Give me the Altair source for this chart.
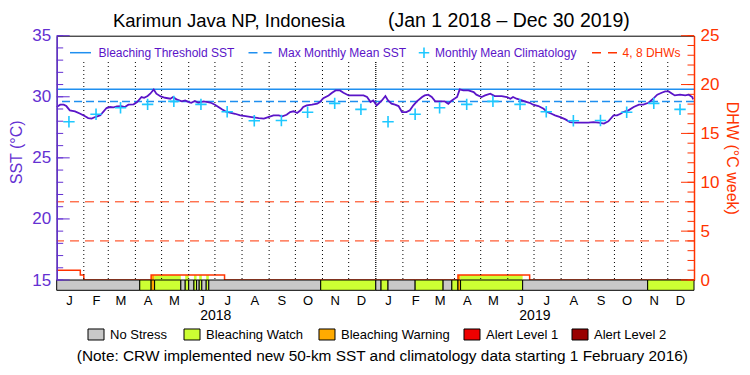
import altair as alt
import pandas as pd

FONT = "Liberation Sans"
W, H = 637.3, 244.3
BAR_Y0, BAR_Y1 = H, H + 10.3

PURPLE = "#5a14c8"
AXPURPLE = "#6430d2"
BLUE = "#1f8ff0"
CYAN = "#1ec8ff"
RED = "#ff3300"

# ---------------- data ----------------
START = pd.Timestamp("2018-01-01")

sst_day = [0, 4, 8, 11, 15, 21, 27, 32, 36, 40, 44, 50, 53, 57, 61, 65, 69, 74, 78, 82,
           88, 92, 97, 100, 104, 107, 111, 114, 119, 124, 130, 133, 137, 143, 147, 151, 154, 158, 162, 168,
           173, 177, 181, 185, 189, 193, 198, 204, 210, 216, 223, 231, 237, 242, 248, 254, 258, 263, 267, 271,
           275, 279, 282, 286, 292, 298, 301, 305, 311, 315, 319, 324, 328, 334, 341, 351, 355, 359, 362, 366,
           368, 372, 376, 379, 383, 387, 391, 395, 400, 404, 408, 412, 418, 421, 425, 429, 433, 439, 444, 448,
           452, 458, 461, 465, 471, 477, 480, 486, 490, 496, 501, 509, 515, 519, 522, 526, 532, 538, 541, 545,
           551, 557, 561, 566, 570, 576, 582, 587, 593, 601, 608, 614, 620, 626, 631, 637, 641, 645, 648, 654,
           660, 666, 671, 677, 683, 687, 692, 696, 700, 704, 707, 713, 719, 723, 727, 728]
sst_val = [29.16, 29.35, 29.35, 29.24, 28.89, 28.81, 28.61, 28.42, 28.26, 28.21, 28.34, 28.48, 28.75, 29.08, 29.16, 29.13, 29.21, 29.24, 29.16, 29.35,
           29.38, 29.57, 29.98, 29.92, 30.06, 30.25, 30.60, 30.25, 30.03, 29.92, 29.84, 29.98, 29.79, 29.62, 29.70, 29.57, 29.51, 29.65, 29.51, 29.62,
           29.57, 29.49, 29.35, 29.16, 28.97, 28.81, 28.70, 28.61, 28.48, 28.42, 28.34, 28.26, 28.21, 28.34, 28.48, 28.48, 28.40, 28.53, 28.75, 28.81,
           28.67, 28.89, 29.16, 29.30, 29.35, 29.43, 29.57, 29.89, 30.11, 30.33, 30.52, 30.52, 30.33, 30.11, 30.11, 30.11, 29.98, 29.57, 29.70, 29.30,
           29.43, 29.70, 30.06, 29.70, 29.43, 29.35, 29.24, 28.75, 28.75, 28.89, 29.30, 29.62, 29.98, 30.11, 30.17, 29.98, 29.62, 29.62, 29.62, 29.43,
           29.70, 29.98, 30.60, 30.52, 30.52, 30.38, 30.17, 29.98, 30.11, 30.25, 30.06, 30.06, 29.98, 29.84, 29.98, 29.84, 29.70, 29.57, 29.51, 29.35,
           29.24, 29.02, 28.75, 28.61, 28.48, 28.34, 28.15, 27.93, 27.88, 27.88, 27.88, 27.93, 27.88, 27.80, 27.99, 28.48, 28.48, 28.61, 28.75, 28.89,
           29.16, 29.35, 29.35, 29.51, 29.89, 30.17, 30.33, 30.44, 30.44, 30.25, 30.11, 30.17, 30.11, 30.17, 29.98, 29.79]

MMM = 29.62
THRESH = MMM + 1.0

clim_month_vals = [27.96, 28.57, 29.10, 29.38, 29.62, 29.38, 28.78, 28.04, 28.06, 28.73, 29.46, 28.97]

dhw_dates = ["2018-01-01", "2018-01-28", "2018-02-01", "2018-04-19", "2018-07-12",
             "2019-04-05", "2019-06-26", "2019-12-31"]
dhw_vals = [1.0, 0.5, 0.0, 0.5, 0.0, 0.5, 0.0, 0.0]
dhw_levels = [4, 8]

stress_starts = ["2018-01-01", "2018-04-06", "2018-04-19", "2018-04-23", "2018-05-23", "2018-05-28",
                 "2018-06-01", "2018-06-07", "2018-06-10", "2018-06-13", "2018-06-16", "2018-06-21",
                 "2018-06-24", "2018-10-30", "2019-01-01", "2019-01-07", "2019-01-15", "2019-02-15",
                 "2019-03-19", "2019-03-29", "2019-04-05", "2019-04-08", "2019-06-18", "2019-11-08"]
stress_levels = ["No Stress", "Bleaching Watch", "Bleaching Warning", "Bleaching Watch", "No Stress",
                 "Bleaching Watch", "No Stress", "Bleaching Watch", "No Stress", "Bleaching Watch",
                 "No Stress", "Bleaching Watch", "No Stress", "Bleaching Watch", "No Stress",
                 "Bleaching Watch", "No Stress", "Bleaching Watch", "No Stress", "Bleaching Watch",
                 "Bleaching Warning", "Bleaching Watch", "No Stress", "Bleaching Watch"]
END_DATE = "2019-12-31"

level_names = ["No Stress", "Bleaching Watch", "Bleaching Warning", "Alert Level 1", "Alert Level 2"]
level_colors = ["#c8c8c8", "#ccff33", "#ffaa00", "#ee0000", "#990000"]

years = [2018, 2019]
TITLE_SITE = "Karimun Java NP, Indonesia"
TITLE_RANGE = "(Jan 1 2018 \u2013 Dec 30 2019)"
NOTE = "(Note: CRW implemented new 50-km SST and climatology data starting 1 February 2016)"

# ---------------- tables ----------------
sst_df = pd.DataFrame({"date": START + pd.to_timedelta(sst_day, unit="D"), "sst": sst_val})
clim_df = pd.DataFrame({
    "date": [pd.Timestamp(year=y, month=m + 1, day=15) for y in years for m in range(12)],
    "clim": clim_month_vals * len(years),
})
month_starts = pd.DataFrame({"date": [pd.Timestamp(year=y, month=m, day=1)
                                      for y in years for m in range(1, 13)][1:]})
year_bound = pd.DataFrame({"date": [pd.Timestamp(year=y, month=1, day=1) for y in years[1:]]})
year_lab = pd.DataFrame({"date": [pd.Timestamp(year=y, month=7, day=2) for y in years],
                         "txt": [str(y) for y in years]})

stress_df = pd.DataFrame({"start": pd.to_datetime(stress_starts),
                          "end": pd.to_datetime(stress_starts[1:] + [END_DATE]),
                          "level": stress_levels})
dhw_df = pd.DataFrame({"date": pd.to_datetime(dhw_dates), "dhw": dhw_vals})

# coloured fill under the DHW line where stress is above "No Stress"
fills = []
for i in range(len(dhw_df) - 1):
    v = dhw_df.dhw[i]
    if v <= 0:
        continue
    a, b = dhw_df.date[i], dhw_df.date[i + 1]
    for _, s in stress_df.iterrows():
        if s.level == "No Stress":
            continue
        lo, hi = max(a, s.start), min(b, s.end)
        if lo < hi:
            fills.append({"start": lo, "end": hi, "level": s.level, "dhw": v, "zero": 0.0})
fill_df = pd.DataFrame(fills)

# ---------------- scales & axes ----------------
xscale = alt.Scale(domain=[alt.DateTime(year=2018, month=1, date=1),
                           alt.DateTime(year=2019, month=12, date=31)])
xaxis = alt.Axis(values=[alt.DateTime(year=y, month=m, date=15) for y in years for m in range(1, 13)],
                 format="%b", labelExpr="slice(datum.label, 0, 1)", domain=False, ticks=False,
                 grid=False, labelPadding=14, labelFontSize=13, labelFont=FONT, labelColor="black",
                 labelAngle=0, labelFlush=False, labelOverlap=False, title=None)

def X(f):
    return alt.X(f"{f}:T", scale=xscale, axis=xaxis)

sst_scale = alt.Scale(domain=[15, 35], nice=False, zero=False)
sst_axis = alt.Axis(orient="left", values=[15, 20, 25, 30, 35], ticks=False, grid=False,
                    domainColor=AXPURPLE, domainWidth=1.5, labelColor=AXPURPLE, labelFont=FONT,
                    labelFontSize=17, labelPadding=6, title="SST (°C)", titleColor=AXPURPLE,
                    titleFont=FONT, titleFontSize=16, titleFontWeight="normal", titleX=-40,
                    titleY=H / 2 - 6, titleBaseline="middle", titleAlign="center", zindex=1)

def Ysst(f):
    return alt.Y(f"{f}:Q", scale=sst_scale, axis=sst_axis)

dhw_scale = alt.Scale(domain=[0, 25], nice=False, zero=False)
dhw_axis = alt.Axis(orient="right", values=[0, 5, 10, 15, 20, 25], ticks=False, grid=False,
                    domainColor=RED, domainWidth=1.5, labelColor=RED, labelFont=FONT,
                    labelFontSize=17, labelPadding=6, title="DHW (°C week)", titleColor=RED,
                    titleFont=FONT, titleFontSize=16, titleFontWeight="normal", titleX=37,
                    titleY=H / 2, titleBaseline="middle", titleAlign="center", zindex=1)

def Ydhw(f):
    return alt.Y(f"{f}:Q", scale=dhw_scale, axis=dhw_axis)

color_scale = alt.Scale(domain=level_names, range=level_colors)
one = pd.DataFrame({"a": [0]})

# ---------------- DHW group ----------------
dhw_dash = alt.Chart(pd.DataFrame({"v": dhw_levels})).mark_rule(
    color=RED, strokeDash=[9, 6], strokeWidth=1).encode(y=Ydhw("v"))
dhw_fill = alt.Chart(fill_df).mark_rect(opacity=1).encode(
    x=X("start"), x2="end", y=Ydhw("dhw"), y2="zero",
    color=alt.Color("level:N", scale=color_scale, legend=None))
dhw_line = alt.Chart(dhw_df).mark_line(interpolate="step-after", color=RED, strokeWidth=1.5).encode(
    x=X("date"), y=Ydhw("dhw"))
stress_bar = alt.Chart(stress_df).mark_rect(stroke="black", strokeWidth=1).encode(
    x=X("start"), x2="end", y=alt.value(BAR_Y0), y2=alt.value(BAR_Y1),
    color=alt.Color("level:N", scale=color_scale, legend=None))
r_major = alt.Chart(pd.DataFrame({"v": [0, 5, 10, 15, 20, 25]})).mark_rule(color=RED, strokeWidth=1).encode(
    y=Ydhw("v"), x=alt.value(W - 13), x2=alt.value(W))
r_minor = alt.Chart(pd.DataFrame({"v": list(range(0, 26))})).mark_rule(color=RED, strokeWidth=1).encode(
    y=Ydhw("v"), x=alt.value(W - 6.5), x2=alt.value(W))
dhw_group = alt.layer(dhw_dash, dhw_fill, dhw_line, stress_bar, r_major, r_minor)

# ---------------- SST group ----------------
dots = alt.Chart(month_starts).mark_rule(color="black", strokeDash=[1, 3], strokeWidth=1).encode(
    x=X("date"), y=alt.value(26.3), y2=alt.value(H))
dots2 = alt.Chart(year_bound).mark_rule(color="black", strokeDash=[1, 1], strokeWidth=1).encode(
    x=X("date"), y=alt.value(26.3), y2=alt.value(H))
thr = alt.Chart(pd.DataFrame({"v": [THRESH]})).mark_rule(color=BLUE, strokeWidth=1.5).encode(y=Ysst("v"))
mmm = alt.Chart(pd.DataFrame({"v": [MMM]})).mark_rule(color=BLUE, strokeWidth=1.5, strokeDash=[8, 4]).encode(y=Ysst("v"))
sst_line = alt.Chart(sst_df).mark_line(color=PURPLE, strokeWidth=1.8).encode(x=X("date"), y=Ysst("sst"))
PLUS = "M-1,0L1,0M0,-1L0,1"
clim = alt.Chart(clim_df).mark_point(shape=PLUS, filled=False, color=CYAN, strokeWidth=1.6,
                                     size=130, opacity=1).encode(x=X("date"), y=Ysst("clim"))
l_major = alt.Chart(pd.DataFrame({"v": [15, 20, 25, 30, 35]})).mark_rule(color=AXPURPLE, strokeWidth=1).encode(
    y=Ysst("v"), x=alt.value(0), x2=alt.value(13))
l_minor = alt.Chart(pd.DataFrame({"v": list(range(15, 36))})).mark_rule(color=AXPURPLE, strokeWidth=1).encode(
    y=Ysst("v"), x=alt.value(0), x2=alt.value(6.5))
yr_txt = alt.Chart(year_lab).mark_text(font=FONT, fontSize=14, color="black", baseline="middle").encode(
    x=X("date"), y=alt.value(280), text="txt:N")

text_layers = [
    alt.Chart(one).mark_text(text=TITLE_SITE, font=FONT, fontSize=18.5, color="black", align="right",
                             baseline="middle").encode(x=alt.value(288.3), y=alt.value(-15)),
    alt.Chart(one).mark_text(text=TITLE_RANGE, font=FONT, fontSize=19.5, color="black", align="left",
                             baseline="middle").encode(x=alt.value(331.3), y=alt.value(-15)),
]

# top legend
LEG_Y = 17
legend_layers = [
    alt.Chart(one).mark_rule(color=BLUE, strokeWidth=1.5).encode(x=alt.value(13.3), x2=alt.value(34.3), y=alt.value(LEG_Y)),
    alt.Chart(one).mark_rule(color=BLUE, strokeWidth=1.5, strokeDash=[9, 6]).encode(x=alt.value(191.8), x2=alt.value(215), y=alt.value(LEG_Y)),
    alt.Chart(one).mark_point(shape=PLUS, filled=False, color=CYAN, strokeWidth=1.6, size=110, opacity=1).encode(x=alt.value(367.3), y=alt.value(LEG_Y)),
    alt.Chart(one).mark_rule(color=RED, strokeWidth=1.5, strokeDash=[9, 7]).encode(x=alt.value(535.3), x2=alt.value(560.3), y=alt.value(LEG_Y)),
]
for xx, txt, col in [(41.8, "Bleaching Threshold SST", PURPLE), (221.3, "Max Monthly Mean SST", PURPLE),
                     (378.3, "Monthly Mean Climatology", PURPLE), (565.9, "4, 8 DHWs", RED)]:
    legend_layers.append(alt.Chart(one).mark_text(text=txt, font=FONT, fontSize=12, color=col, align="left",
                                                  baseline="middle").encode(x=alt.value(xx), y=alt.value(LEG_Y)))

# bottom legend
BL_Y = 298.8
for sx, name, col in zip([31.3, 127.3, 262.3, 407.3, 515.3], level_names, level_colors):
    legend_layers.append(alt.Chart(one).mark_rect(color=col, stroke="black", strokeWidth=1).encode(
        x=alt.value(sx), x2=alt.value(sx + 16), y=alt.value(BL_Y - 5.5), y2=alt.value(BL_Y + 5.5)))
    legend_layers.append(alt.Chart(one).mark_text(text=name, font=FONT, fontSize=13, color="black",
                                                  align="left", baseline="middle").encode(
        x=alt.value(sx + 22), y=alt.value(BL_Y)))
legend_layers.append(alt.Chart(one).mark_text(
    text=NOTE, font=FONT, fontSize=15.4, color="black", align="center", baseline="middle").encode(
    x=alt.value(W / 2 + 7), y=alt.value(319.8)))

sst_group = alt.layer(dots, dots2, thr, mmm, sst_line, clim, l_major, l_minor, yr_txt,
                      *text_layers, *legend_layers)

chart = alt.layer(dhw_group, sst_group).resolve_scale(y="independent").properties(
    width=W, height=H,
    autosize=alt.AutoSizeParams(type="none"),
    padding={"left": 48.7, "top": 27.7, "right": 48, "bottom": 87},
    background="white",
).configure_view(stroke="black", strokeWidth=1)

chart.save("out.html", embed_options={"renderer": "svg", "actions": False})
